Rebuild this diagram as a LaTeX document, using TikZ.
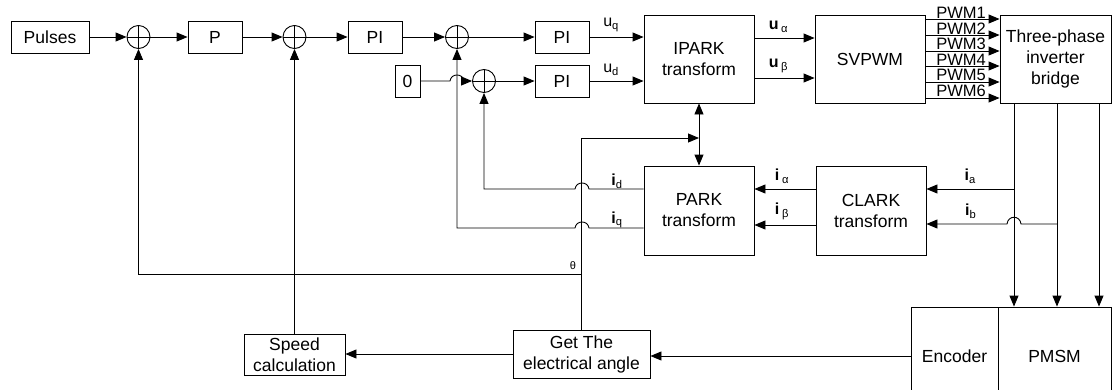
\documentclass[tikz,border=0pt]{standalone}
\usepackage{fontspec}
\setmainfont{Liberation Sans}
\usetikzlibrary{arrows.meta}
\begin{document}
\begin{tikzpicture}[x=1pt,y=-1pt, line width=0.9pt,
  blk/.style={draw, rectangle, inner sep=0pt, align=center, font=\fontsize{17.5}{21}\selectfont},
  sumc/.style={draw, circle, inner sep=0pt, minimum size=23pt},
  tip/.style={Triangle[length=11pt,width=9pt]},
  arr/.style={-{Triangle[length=11pt,width=9pt]}},
  lbl/.style={font=\fontsize{16}{17}\selectfont, inner sep=0pt},
  pwml/.style={font=\fontsize{16.5}{17}\selectfont, inner sep=0.5pt, anchor=south}]
\useasboundingbox (0,0) rectangle (1112,389);
\clip (0,0) rectangle (1112,389);
% blocks
\node[blk, minimum width=78pt, minimum height=32pt] (pulses) at (50,37) {Pulses};
\node[sumc] (s1) at (138.5,37) {};
\node[blk, minimum width=54pt, minimum height=32pt] (P) at (215,37) {P};
\node[sumc] (s2) at (294.5,37) {};
\node[blk, minimum width=54pt, minimum height=32pt] (PI1) at (375,37) {PI};
\node[sumc] (s3) at (457,37) {};
\node[blk, minimum width=54pt, minimum height=32pt] (PI2) at (562,37) {PI};
\node[blk, minimum width=25pt, minimum height=32pt] (zero) at (407.5,81) {0};
\node[sumc] (s4) at (484,81) {};
\node[blk, minimum width=54pt, minimum height=32pt] (PI3) at (562,81) {PI};
\node[blk, minimum width=110pt, minimum height=88pt] (IPARK) at (699,59) {IPARK\\transform};
\node[blk, minimum width=110pt, minimum height=88pt] (SV) at (870,59) {SVPWM};
\node[blk, minimum width=111pt, minimum height=88pt] (TP) at (1055.5,59) {Three-phase\\inverter\\bridge};
\node[blk, minimum width=110pt, minimum height=89pt] (PARK) at (699,210.5) {PARK\\transform};
\node[blk, minimum width=110pt, minimum height=89pt] (CLARK) at (871,210.5) {CLARK\\transform};
\node[blk, minimum width=137pt, minimum height=48pt] (GET) at (581.5,354) {Get The\\electrical angle};
\node[blk, minimum width=101pt, minimum height=41pt] (SPD) at (294.5,354.5) {Speed\\calculation};
\node[blk, minimum width=87pt, minimum height=98pt] (ENC) at (954.5,356) {Encoder};
\node[blk, minimum width=113pt, minimum height=98pt] (PMSM) at (1054.5,356) {PMSM};
% plus signs in summing junctions
\foreach \s in {s1,s2,s3,s4} {\draw (\s.north) -- (\s.south) (\s.west) -- (\s.east);}
% forward path
\draw[arr] (pulses.east) -- (s1.west);
\draw[arr] (s1.east) -- (P.west);
\draw[arr] (P.east) -- (s2.west);
\draw[arr] (s2.east) -- (PI1.west);
\draw[arr] (PI1.east) -- (s3.west);
\draw[arr] (s3.east) -- (PI2.west);
\draw[arr] (zero.east) -- (450,81) .. controls (451,73) and (463,73) .. (464,81) -- (s4.west);
\draw[arr] (s4.east) -- (PI3.west);
\draw[arr] (PI2.east) -- (PI2.east -| IPARK.west) node[lbl, pos=0.4, above=5pt] (luq) {u\textsubscript{q}};
\draw[arr] (PI3.east) -- (PI3.east -| IPARK.west) node[lbl, pos=0.4, above=5pt] (lud) {u\textsubscript{d}};
\coordinate (ya) at (0,38);
\coordinate (yb) at (0,78);
\draw[arr] (IPARK.east |- ya) -- (SV.west |- ya) node[lbl, pos=0.4, above=5pt] (lua) {\textbf{u}\,\textsubscript{α}};
\draw[arr] (IPARK.east |- yb) -- (SV.west |- yb) node[lbl, pos=0.4, above=5pt] (lub) {\textbf{u}\,\textsubscript{β}};
\foreach \y/\n in {19/1,35/2,51/3,66/4,82/5,98/6} {
  \coordinate (yp\n) at (0,\y);
  \draw[arr] (SV.east |- yp\n) -- (TP.west |- yp\n);
  \node[pwml] (pwm\n) at (961,\y) {PWM\n};
}
% inverter to motor
\coordinate (xa) at (1014,0);
\coordinate (xb) at (1057,0);
\coordinate (xc) at (1099,0);
\foreach \c in {xa,xb,xc} {\draw[arr] (TP.south -| \c) -- (PMSM.north -| \c);}
% current measurement
\coordinate (ja) at (1014,189);
\coordinate (jb) at (1057,224);
\draw[arr] (ja) -- (CLARK.east |- ja) node[lbl, pos=0.5, above=5pt] (lia) {\textbf{i}\textsubscript{a}};
\draw[arr] (jb) -- (1021,224) .. controls (1020,215) and (1008,215) .. (1007,224) -- (CLARK.east |- jb) node[lbl, pos=0.45, above=5pt] (lib) {\textbf{i}\textsubscript{b}};
\coordinate (yal) at (0,189);
\coordinate (ybe) at (0,225);
\draw[arr] (CLARK.west |- yal) -- (PARK.east |- yal) node[lbl, pos=0.55, above=5pt] (lial) {\textbf{i}\,\textsubscript{α}};
\draw[arr] (CLARK.west |- ybe) -- (PARK.east |- ybe) node[lbl, pos=0.55, above=5pt] (libe) {\textbf{i}\,\textsubscript{β}};
% current feedback
\coordinate (yd) at (0,189);
\coordinate (yq) at (0,228);
\draw[arr] (PARK.west |- yd) -- (589,189) .. controls (588,181) and (576,181) .. (575,189) -- (484,189) -- (s4.south);
\draw[arr] (PARK.west |- yq) -- (589,228) .. controls (588,220) and (576,220) .. (575,228) -- (457,228) -- (s3.south);
\node[lbl] (lid) at (617,181) {\textbf{i}\textsubscript{d}};
\node[lbl] (liq) at (617,220) {\textbf{i}\textsubscript{q}};
% angle path
\coordinate (jt) at (699,138);
\draw[arr] (GET.north) |- (jt);
\draw[{Triangle[length=11pt,width=9pt]}-{Triangle[length=11pt,width=9pt]}] (IPARK.south) -- (PARK.north);
\coordinate (jth) at (582,274);
\draw[arr] (jth) -| (s1.south);
\node[font=\fontsize{11}{12}\selectfont, inner sep=0pt] (lth) at (573,266) {θ};
\draw[arr] (SPD.north) -- (s2.south);
\draw[arr] (GET.west) -- (SPD.east |- GET.west);
\draw[arr] (ENC.west) -- (GET.east |- ENC.west);
\end{tikzpicture}
\end{document}
